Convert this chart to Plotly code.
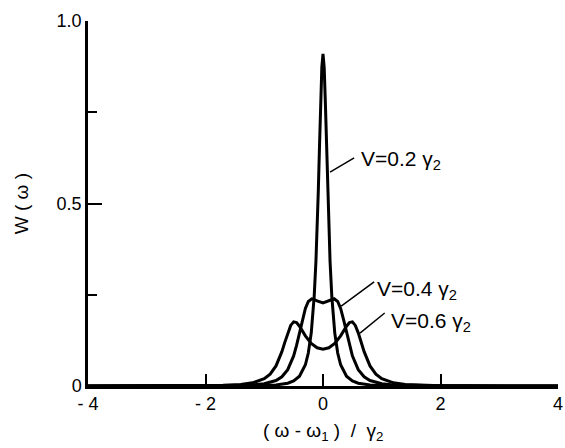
import plotly.graph_objects as go

# Detuning (omega - omega_1)/gamma_2
x_02 = [-4.0, -3.0, -2.0, -1.5, -1.0, -0.8, -0.6, -0.5, -0.4, -0.3, -0.25, -0.2, -0.15, -0.12, -0.10,
        -0.08, -0.06, -0.04, -0.02, 0.0, 0.02, 0.04, 0.06, 0.08, 0.10, 0.12, 0.15, 0.2, 0.25,
        0.3, 0.4, 0.5, 0.6, 0.8, 1.0, 1.5, 2.0, 3.0, 4.0]
w_02 = [0.0, 0.0, 0.0001, 0.0003, 0.0012, 0.0028, 0.0076, 0.0137, 0.0268, 0.0582, 0.0903, 0.1456,
        0.2455, 0.342, 0.428, 0.534, 0.654, 0.777, 0.873, 0.91, 0.873, 0.777, 0.654, 0.534,
        0.428, 0.342, 0.2455, 0.1456, 0.0903, 0.0582, 0.0268, 0.0137, 0.0076, 0.0028, 0.0012,
        0.0003, 0.0001, 0.0, 0.0]

x_04 = [-4.0, -3.0, -2.0, -1.5, -1.2, -1.0, -0.8, -0.7, -0.6, -0.5, -0.45, -0.4, -0.35, -0.3,
        -0.25, -0.19, -0.15, -0.1, 0.0, 0.1, 0.15, 0.19, 0.25, 0.3, 0.35, 0.4, 0.45, 0.5, 0.6,
        0.7, 0.8, 1.0, 1.2, 1.5, 2.0, 3.0, 4.0]
w_04 = [0.0, 0.0001, 0.0004, 0.0012, 0.0029, 0.0061, 0.0149, 0.0252, 0.0448, 0.0825, 0.1111,
        0.1456, 0.1818, 0.2126, 0.2317, 0.2389, 0.2374, 0.233, 0.2275, 0.233, 0.2374, 0.2389,
        0.2317, 0.2126, 0.1818, 0.1456, 0.1111, 0.0825, 0.0448, 0.0252, 0.0149, 0.0061,
        0.0029, 0.0012, 0.0004, 0.0001, 0.0]

x_06 = [-4.0, -3.0, -2.5, -2.0, -1.7, -1.4, -1.2, -1.0, -0.9, -0.8, -0.7, -0.65, -0.6, -0.55,
        -0.5, -0.45, -0.4, -0.3, -0.2, -0.1, 0.0, 0.1, 0.2, 0.3, 0.4, 0.45, 0.5, 0.55, 0.6,
        0.65, 0.7, 0.8, 0.9, 1.0, 1.2, 1.4, 1.7, 2.0, 2.5, 3.0, 4.0]
w_06 = [0.0, 0.0002, 0.0004, 0.0009, 0.0018, 0.0043, 0.0086, 0.0199, 0.0324, 0.055, 0.094,
        0.1196, 0.1456, 0.166, 0.1757, 0.1737, 0.1638, 0.1374, 0.1166, 0.1048, 0.1011,
        0.1048, 0.1166, 0.1374, 0.1638, 0.1737, 0.1757, 0.166, 0.1456, 0.1196, 0.094, 0.055,
        0.0324, 0.0199, 0.0086, 0.0043, 0.0018, 0.0009, 0.0004, 0.0002, 0.0]

x_ticks = [-4, -2, 0, 2, 4]
x_ticktext = ["- 4", "- 2", "0", "2", "4"]
y_ticks = [0, 0.5, 1.0]
y_ticktext = ["0", "0.5", "1.0"]

labels = ["V=0.2 γ<sub>2</sub>", "V=0.4 γ<sub>2</sub>", "V=0.6 γ<sub>2</sub>"]
# (text x, text y, leader start x, leader start y, leader end x, leader end y)
label_pos = [
    (0.61, 0.62, 0.12, 0.586, 0.53, 0.625),
    (0.88, 0.263, 0.31, 0.219, 0.87, 0.285),
    (1.12, 0.175, 0.63, 0.145, 1.05, 0.20),
]

FONT = "Liberation Sans, Arial, sans-serif"

fig = go.Figure()
for xs, ws in [(x_02, w_02), (x_04, w_04), (x_06, w_06)]:
    fig.add_trace(go.Scatter(x=xs, y=ws, mode="lines",
                             line=dict(color="black", width=3),
                             showlegend=False, hoverinfo="skip", cliponaxis=False))

for text, (tx, ty, sx, sy, ex, ey) in zip(labels, label_pos):
    fig.add_annotation(x=tx, y=ty, text=text, showarrow=False, xanchor="left",
                       yanchor="middle", font=dict(size=21, color="black", family=FONT))
    fig.add_shape(type="line", x0=sx, y0=sy, x1=ex, y1=ey,
                  line=dict(color="black", width=1.5))

fig.add_annotation(x=0, y=-0.126, xref="x", yref="paper",
                   text="( ω - ω<sub>1</sub> )  /  γ<sub>2</sub>", showarrow=False,
                   xanchor="center", yanchor="middle",
                   font=dict(size=19, color="black", family=FONT))
fig.add_annotation(x=-0.141, y=0.5, xref="paper", yref="paper",
                   text="W ( ω )", showarrow=False, textangle=-90,
                   xanchor="center", yanchor="middle",
                   font=dict(size=19, color="black", family=FONT))

fig.update_layout(
    width=565, height=448,
    margin=dict(l=88, r=7, t=21, b=62),
    paper_bgcolor="white", plot_bgcolor="white",
    font=dict(family=FONT, color="black"),
    xaxis=dict(range=[-4, 4], tickvals=x_ticks, ticktext=x_ticktext,
               ticks="inside", ticklen=12, tickwidth=2, tickcolor="black",
               showline=True, linecolor="black", linewidth=2.5,
               showgrid=False, zeroline=False, automargin=False,
               ticklabeloverflow="allow",
               tickfont=dict(size=18, color="black", family=FONT)),
    yaxis=dict(range=[0, 1.0], tickvals=y_ticks, ticktext=y_ticktext,
               ticks="inside", ticklen=14, tickwidth=2, tickcolor="black",
               showline=True, linecolor="black", linewidth=2.5,
               showgrid=False, zeroline=False, automargin=False,
               ticklabeloverflow="allow",
               minor=dict(tickvals=[0.25, 0.75], ticks="inside", ticklen=9,
                          tickwidth=2, tickcolor="black", showgrid=False),
               tickfont=dict(size=18, color="black", family=FONT)),
)

fig.write_html("out.html")
